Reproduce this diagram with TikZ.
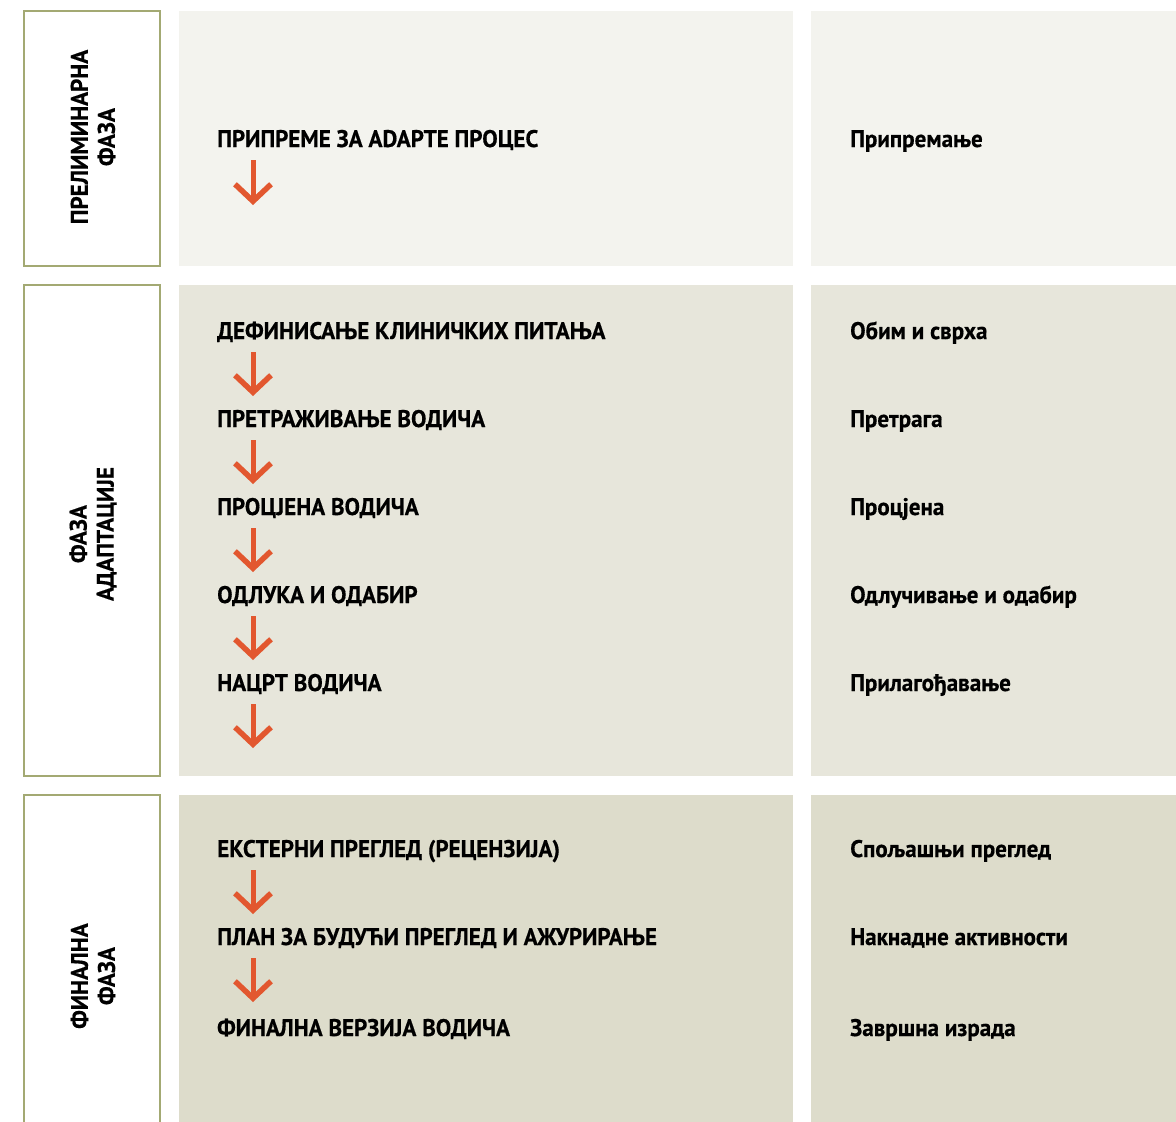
\documentclass[tikz,border=0pt]{standalone}
\usepackage{fontspec}
\setmainfont{PT Sans}[FakeStretch=0.96,BoldFeatures={FakeBold=0.5}]
\usetikzlibrary{arrows.meta}
\definecolor{rowA}{HTML}{F3F3EE}
\definecolor{rowB}{HTML}{E7E6DB}
\definecolor{rowC}{HTML}{DDDCCB}
\definecolor{boxline}{HTML}{A3A973}
\definecolor{arrowc}{HTML}{E2572F}
\begin{document}
\begin{tikzpicture}[x=1pt,y=-1pt,
  phasebox/.style={draw=boxline,line width=2pt,fill=white},
  phaselbl/.style={rotate=90,align=center,inner sep=0pt,font=\fontsize{24}{27}\selectfont\bfseries},
  mainlbl/.style={anchor=base west,inner sep=0pt,font=\fontsize{24}{27}\selectfont\bfseries},
  sidelbl/.style={anchor=base west,inner sep=0pt,font=\fontsize{24}{27}\selectfont\bfseries},
  flowarrow/.style={draw=arrowc,line width=5pt,-{Straight Barb[length=17pt,width=36pt,line width=5.5pt]}}]
\useasboundingbox (0,0) rectangle (1176,1122);
\begin{scope}
\clip (0,0) rectangle (1176,1122);
% panels
\fill[rowA] (179,11) rectangle (793,266);
\fill[rowA] (811,11) rectangle (1190,266);
\fill[rowB] (179,285) rectangle (793,776);
\fill[rowB] (811,285) rectangle (1190,776);
\fill[rowC] (179,795) rectangle (793,1140);
\fill[rowC] (811,795) rectangle (1190,1140);
% phase boxes
\draw[phasebox] (24,11) rectangle (160,266);
\draw[phasebox] (24,285) rectangle (160,776);
\draw[phasebox] (24,795) rectangle (160,1160);
\end{scope}
\node[phaselbl] (p1) at (93,137) {ПРЕЛИМИНАРНА\\ФАЗА};
\node[phaselbl] (p2) at (93,534) {ФАЗА\\АДАПТАЦИЈЕ};
\node[phaselbl] (p3) at (93,976) {ФИНАЛНА\\ФАЗА};
% main texts
\node[mainlbl] (m1) at (217,147) {ПРИПРЕМЕ ЗА ADAPTE ПРОЦЕС};
\node[mainlbl] (m2) at (217,339) {ДЕФИНИСАЊЕ КЛИНИЧКИХ ПИТАЊА};
\node[mainlbl] (m3) at (217,427) {ПРЕТРАЖИВАЊЕ ВОДИЧА};
\node[mainlbl] (m4) at (217,515) {ПРОЦЈЕНА ВОДИЧА};
\node[mainlbl] (m5) at (217,603) {ОДЛУКА И ОДАБИР};
\node[mainlbl] (m6) at (217,691) {НАЦРТ ВОДИЧА};
\node[mainlbl] (m7) at (217,857) {ЕКСТЕРНИ ПРЕГЛЕД (РЕЦЕНЗИЈА)};
\node[mainlbl] (m8) at (217,945) {ПЛАН ЗА БУДУЋИ ПРЕГЛЕД И АЖУРИРАЊЕ};
\node[mainlbl] (m9) at (217,1036) {ФИНАЛНА ВЕРЗИЈА ВОДИЧА};
% side texts
\node[sidelbl] (s1) at (850,147) {Припремање};
\node[sidelbl] (s2) at (850,339) {Обим и сврха};
\node[sidelbl] (s3) at (850,427) {Претрага};
\node[sidelbl] (s4) at (850,515) {Процјена};
\node[sidelbl] (s5) at (850,603) {Одлучивање и одабир};
\node[sidelbl] (s6) at (850,691) {Прилагођавање};
\node[sidelbl] (s7) at (850,857) {Спољашњи преглед};
\node[sidelbl] (s8) at (850,945) {Накнадне активности};
\node[sidelbl] (s9) at (850,1036) {Завршна израда};
% arrows
\coordinate (a1s) at (253,160); \coordinate (a1e) at (253,205);
\coordinate (a2s) at (253,352); \coordinate (a2e) at (253,396);
\coordinate (a3s) at (253,440); \coordinate (a3e) at (253,484);
\coordinate (a4s) at (253,528); \coordinate (a4e) at (253,572);
\coordinate (a5s) at (253,616); \coordinate (a5e) at (253,660);
\coordinate (a6s) at (253,704); \coordinate (a6e) at (253,748);
\coordinate (a7s) at (253,870); \coordinate (a7e) at (253,914);
\coordinate (a8s) at (253,958); \coordinate (a8e) at (253,1002);
\foreach \i in {1,...,8} {\draw[flowarrow] (a\i s) -- (a\i e);}
\end{tikzpicture}
\end{document}
